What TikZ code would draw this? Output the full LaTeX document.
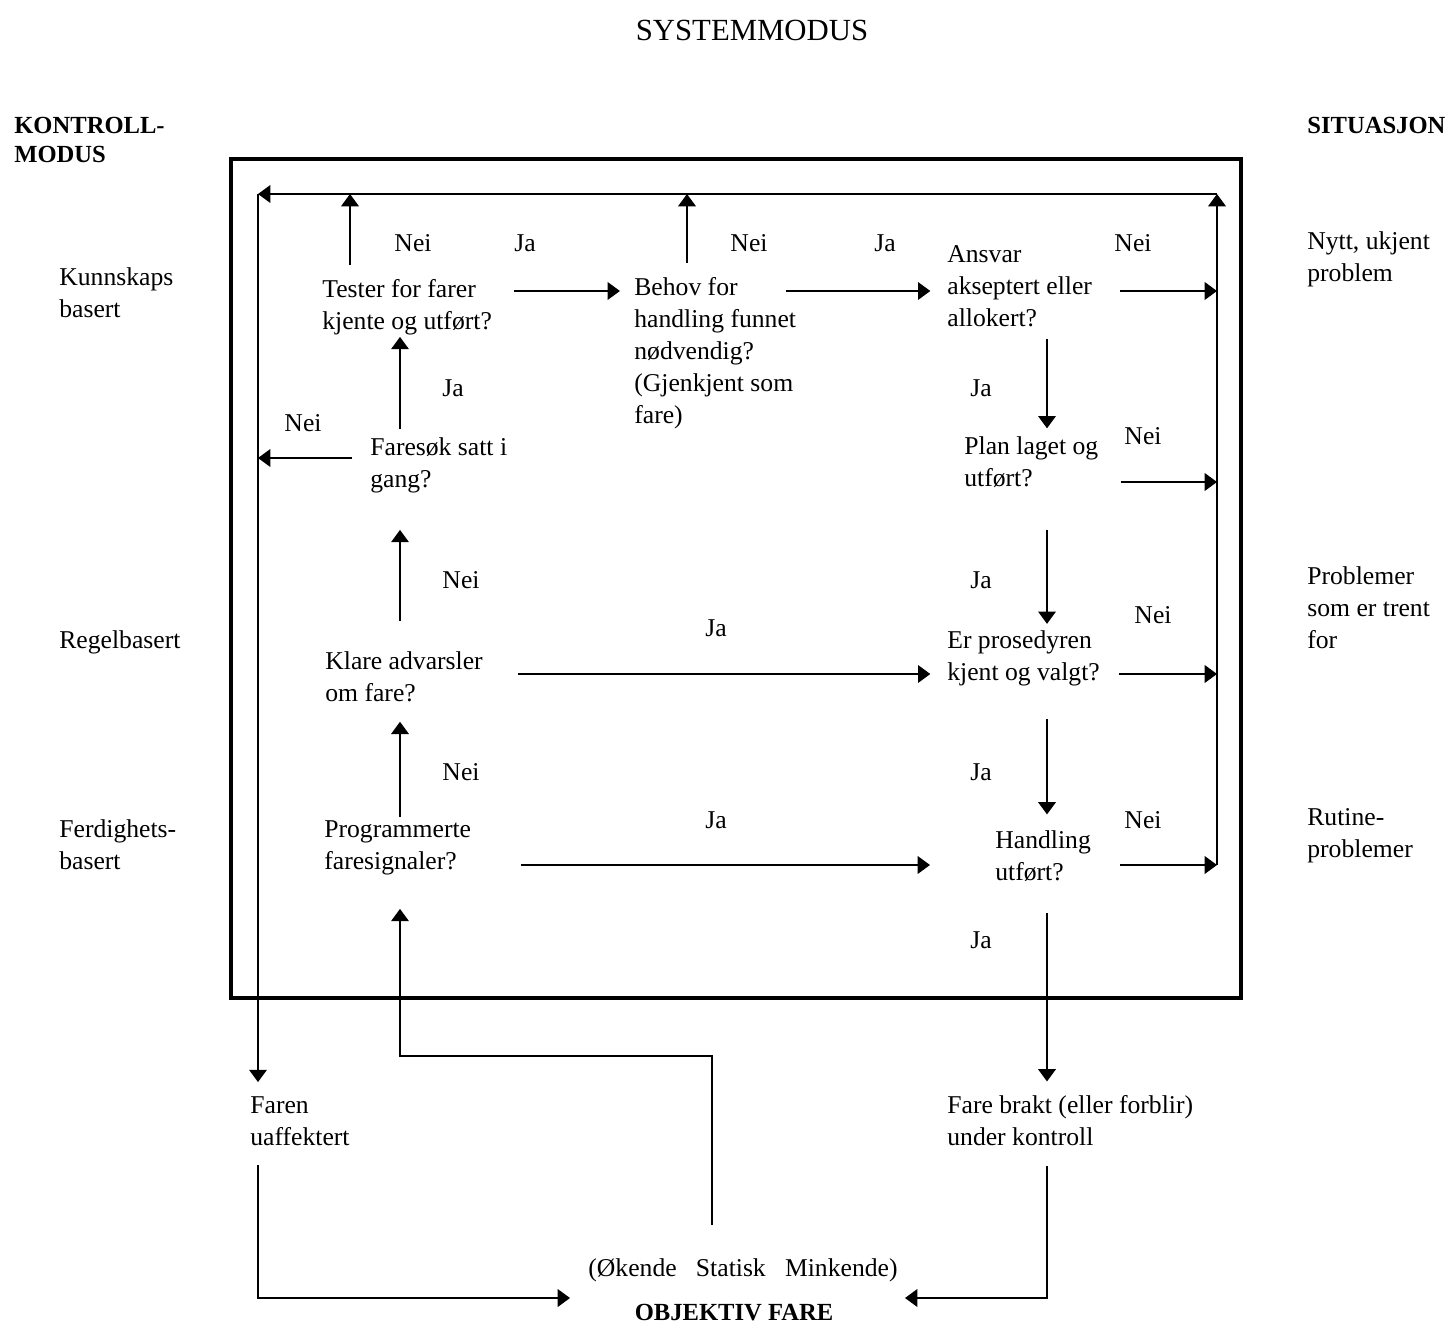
\documentclass[tikz,border=0pt]{standalone}
\usepackage{fontspec}
\setmainfont{Liberation Serif}
\usetikzlibrary{arrows.meta}

\begin{document}
\begin{tikzpicture}[x=0.02cm, y=-0.02cm,
  txt/.style={anchor=west, align=left, inner sep=0pt, font=\fontsize{14.6}{18.2}\selectfont},
  lbl/.style={inner sep=0pt, font=\fontsize{14.6}{18.2}\selectfont},
  hdr/.style={anchor=west, align=left, inner sep=0pt, font=\fontsize{14}{17}\selectfont\bfseries},
  arr/.style={line width=1pt, -{Triangle[length=7pt, width=10pt]}}]
\useasboundingbox (0,0) rectangle (1450,1331);

\node[inner sep=0pt, font=\fontsize{17.5}{21}\selectfont] (title) at (752, 30) {SYSTEMMODUS};
\node[hdr] (kontroll) at (14, 140) {KONTROLL-\\MODUS};
\node[hdr] (situasjon) at (1307, 125) {SITUASJON};

\node[txt] (kunnskap) at (59, 293) {Kunnskaps\\basert};
\node[txt] (regel) at (59, 642) {Regelbasert};
\node[txt] (ferdig) at (59, 845) {Ferdighets-\\basert};
\node[txt] (nytt) at (1307, 259) {Nytt, ukjent\\problem};
\node[txt] (trent) at (1307, 608) {Problemer\\som er trent\\for};
\node[txt] (rutine) at (1307, 836) {Rutine-\\problemer};

\draw[line width=2.2pt] (231, 159) rectangle (1241, 998);

\node[txt] (tester) at (322, 307) {Tester for farer\\kjente og utført?};
\node[txt] (behov) at (634, 353) {Behov for\\handling funnet\\nødvendig?\\(Gjenkjent som\\fare)};
\node[txt] (ansvar) at (947, 286) {Ansvar\\akseptert eller\\allokert?};
\node[txt] (faresok) at (370, 465) {Faresøk satt i\\gang?};
\node[txt] (plan) at (964, 462) {Plan laget og\\utført?};
\node[txt] (klare) at (325, 677) {Klare advarsler\\om fare?};
\node[txt] (prosedyre) at (947, 658) {Er prosedyren\\kjent og valgt?};
\node[txt] (program) at (324, 848) {Programmerte\\faresignaler?};
\node[txt] (handling) at (995, 856) {Handling\\utført?};
\node[txt] (faren) at (250, 1121) {Faren\\uaffektert};
\node[txt] (brakt) at (947, 1121) {Fare brakt (eller forblir)\\under kontroll};
\node[lbl] (okende) at (743, 1270) {(Økende~~~Statisk~~~Minkende)};
\node[inner sep=0pt, font=\fontsize{14}{17}\selectfont\bfseries] (objektiv) at (734, 1313) {OBJEKTIV FARE};

\node[lbl] (testerNei) at (413, 243) {Nei};
\node[lbl] (testerJa) at (525, 243) {Ja};
\node[lbl] (behovNei) at (749, 243) {Nei};
\node[lbl] (behovJa) at (885, 243) {Ja};
\node[lbl] (ansvarNei) at (1133, 243) {Nei};
\node[lbl] (faresokJa) at (453, 388) {Ja};
\node[lbl] (faresokNei) at (303, 423) {Nei};
\node[lbl] (ansvarJa) at (981, 388) {Ja};
\node[lbl] (planNei) at (1143, 436) {Nei};
\node[lbl] (klareNei) at (461, 580) {Nei};
\node[lbl] (planJa) at (981, 580) {Ja};
\node[lbl] (prosedyreNei) at (1153, 615) {Nei};
\node[lbl] (klareJa) at (716, 628) {Ja};
\node[lbl] (programNei) at (461, 772) {Nei};
\node[lbl] (prosedyreJa) at (981, 772) {Ja};
\node[lbl] (programJa) at (716, 820) {Ja};
\node[lbl] (handlingNei) at (1143, 820) {Nei};
\node[lbl] (handlingJa) at (981, 940) {Ja};

\coordinate (loopTL) at (258, 194);
\coordinate (loopTR) at (1217, 194);
\coordinate (loopBR) at (1217, 865);
\coordinate (objL) at (570, 1298);
\coordinate (objR) at (905, 1298);

\draw[arr] (loopTR) -- (loopTL);
\draw[arr] (loopBR) -- (loopTR);
\draw[arr, shorten >=8pt] (loopTL) -- (faren.north -| loopTL);

\draw[arr, shorten <=8pt] (tester.north -| 350,0) -- (loopTL -| 350,0);
\draw[arr, shorten <=8pt] (behov.north -| 687,0) -- (loopTL -| 687,0);
\draw[arr, shorten <=12.5pt, shorten >=8pt] (tester.east |- 0,291) -- (behov.west |- 0,291);
\draw[arr, shorten <=-6pt, shorten >=9.5pt] (behov.east |- 0,291) -- (ansvar.west |- 0,291);
\draw[arr, shorten <=16pt] (ansvar.east |- 0,291) -- (loopBR |- 0,291);
\draw[arr, shorten <=7pt, shorten >=4.5pt] (ansvar.south -| 1047,0) -- (plan.north -| 1047,0);
\draw[arr, shorten <=12.5pt] (plan.east |- 0,482) -- (loopBR |- 0,482);
\draw[arr, shorten <=24pt, shorten >=3.5pt] (plan.south -| 1047,0) -- (prosedyre.north -| 1047,0);
\draw[arr, shorten <=11pt] (prosedyre.east |- 0,674) -- (loopBR |- 0,674);
\draw[arr, shorten <=19pt, shorten >=9pt] (prosedyre.south -| 1047,0) -- (handling.north -| 1047,0);
\draw[arr, shorten <=16.5pt] (handling.east |- 0,865) -- (loopBR);
\draw[arr, shorten <=18pt, shorten >=8pt] (handling.south -| 1047,0) -- (brakt.north -| 1047,0);

\draw[arr, shorten <=4.5pt, shorten >=1pt] (faresok.north -| 400,0) -- (tester.south -| 400,0);
\draw[arr, shorten <=10pt] (faresok.west |- 0,458) -- (loopTL |- 0,458);
\draw[arr, shorten <=17.5pt, shorten >=21pt] (klare.north -| 400,0) -- (faresok.south -| 400,0);
\draw[arr, shorten <=20pt, shorten >=9.5pt] (klare.east |- 0,674) -- (prosedyre.west |- 0,674);
\draw[arr, shorten <=2pt, shorten >=11pt] (program.north -| 400,0) -- (klare.south -| 400,0);
\draw[arr, shorten <=28pt, shorten >=37pt] (program.east |- 0,865) -- (handling.west |- 0,865);

\draw[arr, shorten <=19pt, shorten >=19pt] (okende.north -| 712,0) -- (712, 1056) -| (program.south -| 400,0);
\draw[arr, shorten <=11pt] (faren.south -| loopTL) |- (objL);
\draw[arr, shorten <=11pt] (brakt.south -| 1047,0) |- (objR);
\end{tikzpicture}
\end{document}
